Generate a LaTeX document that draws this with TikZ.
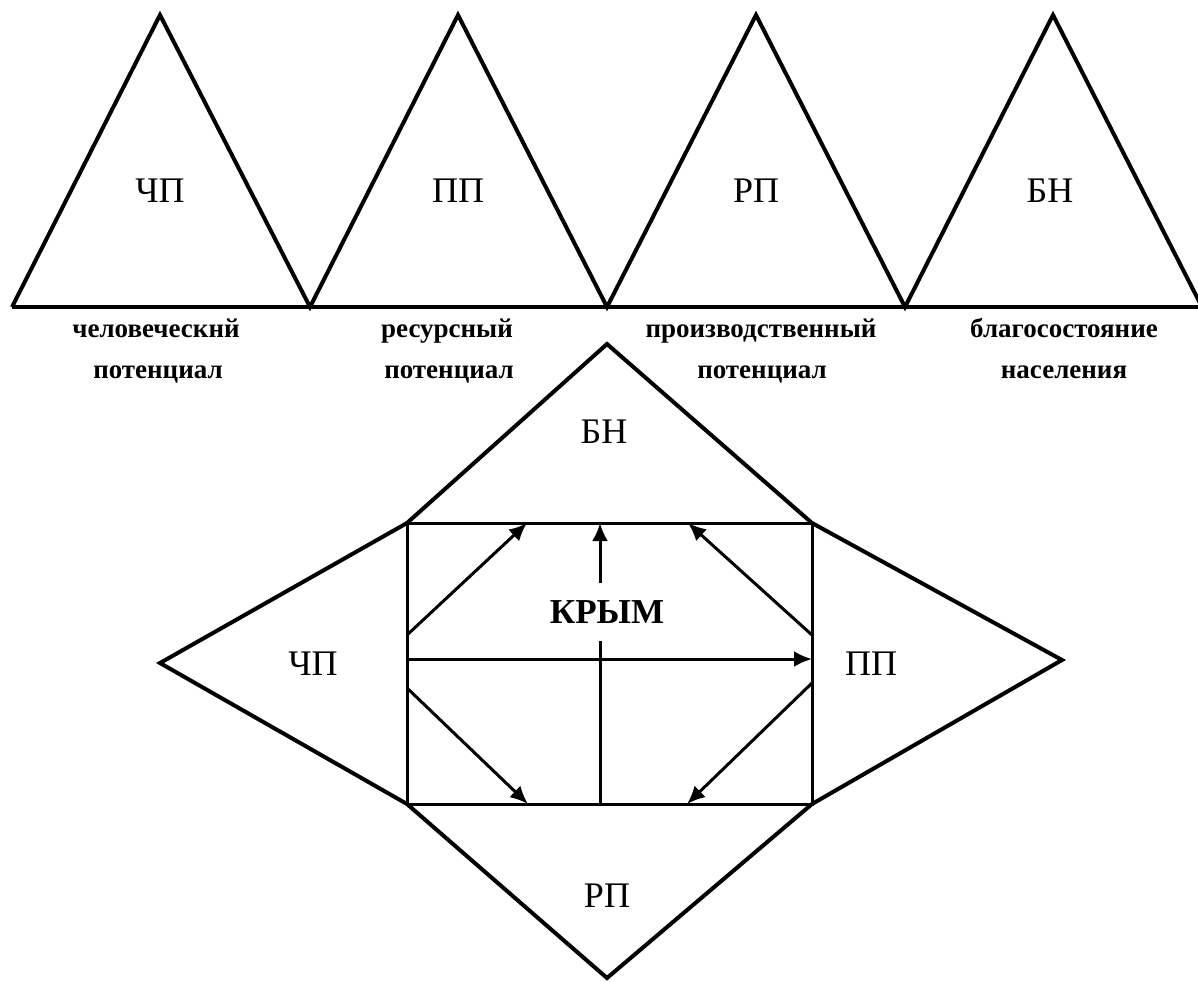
\documentclass[tikz,border=0pt]{standalone}
\usepackage{fontspec}
\setmainfont{Liberation Serif}
\usetikzlibrary{arrows.meta}
\begin{document}
\begin{tikzpicture}[x=0.5pt,y=-0.5pt,
  shapeline/.style={line width=2pt, line join=miter},
  innerline/.style={line width=1.5pt},
  arr/.style={innerline,-{Latex[length=9pt,width=8pt]}},
  abbr/.style={font=\fontsize{18}{20}\selectfont, inner sep=0pt, anchor=base},
  capt/.style={font=\bfseries\fontsize{13.5}{16}\selectfont, inner sep=0pt, anchor=base},
  title/.style={font=\bfseries\fontsize{17.5}{19}\selectfont, inner sep=0pt, minimum height=29pt, fill=white},
]
\useasboundingbox (0,0) rectangle (1198,981);
\clip (0,0) rectangle (1198,981);

% ---------- top row of triangles ----------
\coordinate (b0) at (12,307);
\coordinate (b1) at (310,307);
\coordinate (b2) at (607,307);
\coordinate (b3) at (905,307);
\coordinate (b4) at (1202,307);
\coordinate (t1) at (160,15);
\coordinate (t2) at (458,15);
\coordinate (t3) at (756,15);
\coordinate (t4) at (1053,15);
\draw[shapeline] (b0) -- (t1) -- (b1) -- (t2) -- (b2) -- (t3) -- (b3) -- (t4) -- (b4);
\draw[shapeline] (b0) -- (b4);

\node[abbr] (u1) at (160,202) {ЧП};
\node[abbr] (u2) at (458,202) {ПП};
\node[abbr] (u3) at (756,202) {РП};
\node[abbr] (u4) at (1050,202) {БН};

\node[capt] (c1a) at (156,337) {человеческнй};
\node[capt] (c1b) at (158,378) {потенциал};
\node[capt] (c2a) at (447,337) {ресурсный};
\node[capt] (c2b) at (449,378) {потенциал};
\node[capt] (c3a) at (761,337) {производственный};
\node[capt] (c3b) at (762,378) {потенциал};
\node[capt] (c4a) at (1064,337) {благосостояние};
\node[capt] (c4b) at (1064,378) {населения};

% ---------- lower figure ----------
\coordinate (tl) at (407,523);
\coordinate (tr) at (812,523);
\coordinate (bl) at (407,804);
\coordinate (br) at (812,804);
\coordinate (apT) at (607,344);
\coordinate (apL) at (160,663);
\coordinate (apR) at (1062,660);
\coordinate (apB) at (607,978);

\draw[shapeline] (tl) -- (apT) -- (tr) -- (apR) -- (br) -- (apB) -- (bl) -- (apL) -- cycle;
\draw[innerline] (tl) rectangle (br);

\node[abbr] (lBN) at (604,443) {БН};
\node[abbr] (lCP) at (313,675) {ЧП};
\node[abbr] (lPP) at (871,675) {ПП};
\node[abbr] (lRP) at (607,907) {РП};

\node[title] (krym) at (607,612) {КРЫМ};

% arrow end points on the rectangle
\coordinate (a1s) at (407,635);
\coordinate (a1e) at (527,523);
\coordinate (a2s) at (600,804);
\coordinate (a2e) at (600,523);
\coordinate (a3s) at (812,635);
\coordinate (a3e) at (688,523);
\coordinate (a4s) at (407,659);
\coordinate (a4e) at (812,659);
\coordinate (a5s) at (407,688);
\coordinate (a5e) at (528,804);
\coordinate (a6s) at (812,683);
\coordinate (a6e) at (687,804);

\draw[arr] (a1s) -- (a1e);
\draw[arr] (a3s) -- (a3e);
\draw[arr] (a4s) -- (a4e);
\draw[arr] (a5s) -- (a5e);
\draw[arr] (a6s) -- (a6e);
\draw[innerline] (a2s) -- (a2s |- krym.south);
\draw[arr] (a2s |- krym.north) -- (a2e);
\end{tikzpicture}
\end{document}
